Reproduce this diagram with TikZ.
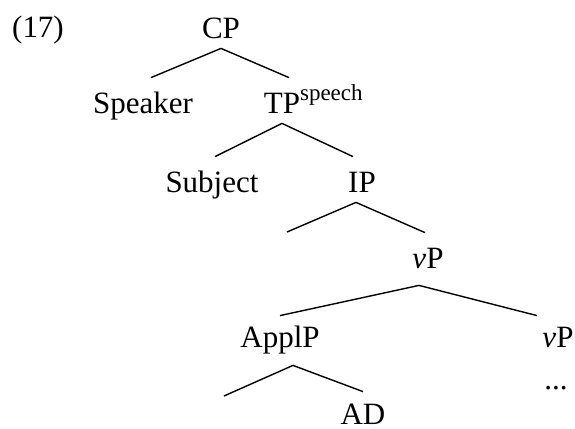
\documentclass[tikz,border=0pt]{standalone}
\usepackage{fontspec}
\setmainfont{Liberation Serif}
\usepackage{tikz}
\usetikzlibrary{positioning}

\tikzset{
  cat/.style={inner sep=0pt, anchor=base, text height=17.5pt, text depth=5pt},
  branch/.style={line width=0.7pt}
}

\begin{document}
\begin{tikzpicture}[x=0.5pt,y=-0.5pt,font=\fontsize{15.5}{18}\selectfont]
  \useasboundingbox (0,0) rectangle (575,429);
  % example number
  \node[cat] (num) at (38,37) {(17)};
  % tree nodes
  \node[cat] (cp) at (221,38) {CP};
  \node[cat] (spk) at (143,113) {Speaker};
  \node[cat] (tp) at (282,113) {TP\rlap{\raisebox{6.5pt}{\fontsize{11.5}{12}\selectfont speech}}};
  \node[cat] (subj) at (212,192) {Subject};
  \node[cat] (ip) at (362,192) {IP};
  \coordinate (ipl) at (287,232);
  \node[cat] (vp) at (428,268) {\textit{v}P};
  \node[cat] (applp) at (280,347) {ApplP};
  \node[cat] (vp2) at (558,347) {\textit{v}P};
  \node[cat] (dots) at (556,389) {...};
  \coordinate (appll) at (224,396);
  \node[cat, text depth=0pt] (ad) at (363,424) {AD};

  \draw[branch] (cp.south) -- ([xshift=4pt]spk.north);
  \draw[branch] (cp.south) -- ([xshift=3.5pt]tp.north);
  \draw[branch] (tp.south) -- ([xshift=1.5pt]subj.north);
  \draw[branch] (tp.south) -- ([xshift=-4.5pt]ip.north);
  \draw[branch] ([xshift=-3pt]ip.south) -- (ipl);
  \draw[branch] ([xshift=-3pt]ip.south) -- ([xshift=-1.5pt]vp.north);
  \draw[branch] ([xshift=-4.5pt,yshift=-3.5pt]vp.south) -- ([yshift=-2pt]applp.north);
  \draw[branch] ([xshift=-4.5pt,yshift=-3.5pt]vp.south) -- ([xshift=-10.5pt,yshift=-2pt]vp2.north);
  \draw[branch] ([xshift=6.5pt,yshift=-4pt]applp.south) -- (appll);
  \draw[branch] ([xshift=6.5pt,yshift=-4pt]applp.south) -- ([yshift=-1.5pt]ad.north);
\end{tikzpicture}
\end{document}
